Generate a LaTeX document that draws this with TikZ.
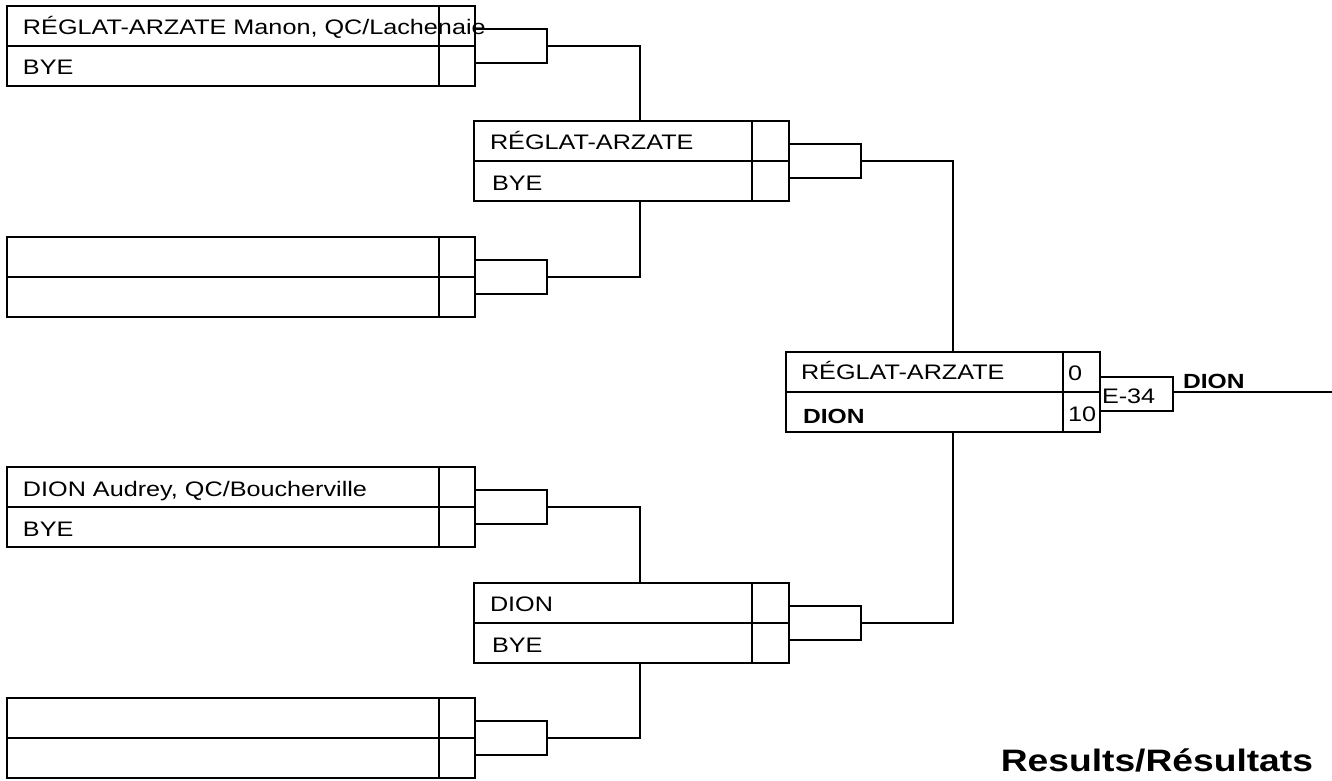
\documentclass[tikz,border=0pt]{standalone}
\usepackage{fontspec}
\setmainfont{Liberation Sans}[FakeStretch=1.2]
\begin{document}
\begin{tikzpicture}[x=1pt,y=-1pt,line width=1.1pt,
  every node/.style={inner sep=0pt,outer sep=0pt},
  txt/.style={font=\fontsize{21}{25}\selectfont,anchor=base west},
  btxt/.style={font=\fontsize{20.5}{25}\selectfont\bfseries,anchor=base west},
  rbox/.style={draw,rectangle,minimum height=80pt},
  r1box/.style={rbox,minimum width=468pt},
  r2box/.style={rbox,minimum width=315pt},
  fbox/.style={rbox,minimum width=314pt},
  conn/.style={draw,rectangle,minimum width=72pt,minimum height=34pt,anchor=west},
]
\useasboundingbox (0,0) rectangle (1332,781);

% round 1
\node[r1box] (a1) at (241,46) {};
\node[r1box] (a2) at (241,277) {};
\node[r1box] (a3) at (241,507) {};
\node[r1box] (a4) at (241,738) {};
% round 2
\node[r2box] (b1) at (631.5,161) {};
\node[r2box] (b2) at (631.5,623) {};
% final
\node[fbox] (f) at (943,392) {};

% dividers and score columns
\foreach \n/\s in {a1/36,a2/36,a3/36,a4/36,b1/37,b2/37,f/37}{
  \draw (\n.west) -- (\n.east);
  \draw ([xshift=-\s pt]\n.north east) -- ([xshift=-\s pt]\n.south east);
}

% connector boxes
\node[conn] (ca1) at (a1.east) {};
\node[conn] (ca2) at (a2.east) {};
\node[conn] (ca3) at (a3.east) {};
\node[conn] (ca4) at (a4.east) {};
\node[conn] (cb1) at (b1.east) {};
\node[conn] (cb2) at (b2.east) {};
\node[conn,minimum width=73pt] (e34) at ([yshift=-2pt]f.east) {};

% lines
\draw (ca1.east) -| ([xshift=8.5pt]b1.north);
\draw (ca2.east) -| ([xshift=8.5pt]b1.south);
\draw (ca3.east) -| ([xshift=8.5pt]b2.north);
\draw (ca4.east) -| ([xshift=8.5pt]b2.south);
\draw (cb1.east) -| ([xshift=10pt]f.north);
\draw (cb2.east) -| ([xshift=10pt]f.south);
\coordinate (out) at (1332,392);
\draw (e34.east |- out) -- (out);

% texts round 1
\node[txt] (t1) at ([xshift=16pt,yshift=-29pt]a1.north west) {RÉGLAT-ARZATE Manon, QC/Lachenaie};
\node[txt] (t2) at ([xshift=16pt,yshift=-29pt]a1.west) {BYE};
\node[txt] (t5) at ([xshift=16pt,yshift=-29pt]a3.north west) {DION Audrey, QC/Boucherville};
\node[txt] (t6) at ([xshift=16pt,yshift=-29pt]a3.west) {BYE};
% round 2
\node[txt] (u1) at ([xshift=16pt,yshift=-28pt]b1.north west) {RÉGLAT-ARZATE};
\node[txt] (u2) at ([xshift=18pt,yshift=-29pt]b1.west) {BYE};
\node[txt] (u3) at ([xshift=16pt,yshift=-28pt]b2.north west) {DION};
\node[txt] (u4) at ([xshift=18pt,yshift=-29pt]b2.west) {BYE};
% final
\node[txt] (v1) at ([xshift=15pt,yshift=-27pt]f.north west) {RÉGLAT-ARZATE};
\node[btxt] (v2) at ([xshift=17pt,yshift=-31pt]f.west) {DION};
\node[txt] (s1) at ([xshift=-32pt,yshift=-28pt]f.north east) {0};
\node[txt] (s2) at ([xshift=-32pt,yshift=-29pt]f.east) {10};
\node[txt] (e34t) at ([xshift=2pt,yshift=-9pt]e34.west) {E-34};
\node[btxt] (win) at ([xshift=10pt,yshift=4pt]e34.east |- out) {DION};

\node[font=\fontsize{31}{37}\selectfont\bfseries,anchor=base east] (res) at (1313,771) {Results/Résultats};
\end{tikzpicture}
\end{document}
